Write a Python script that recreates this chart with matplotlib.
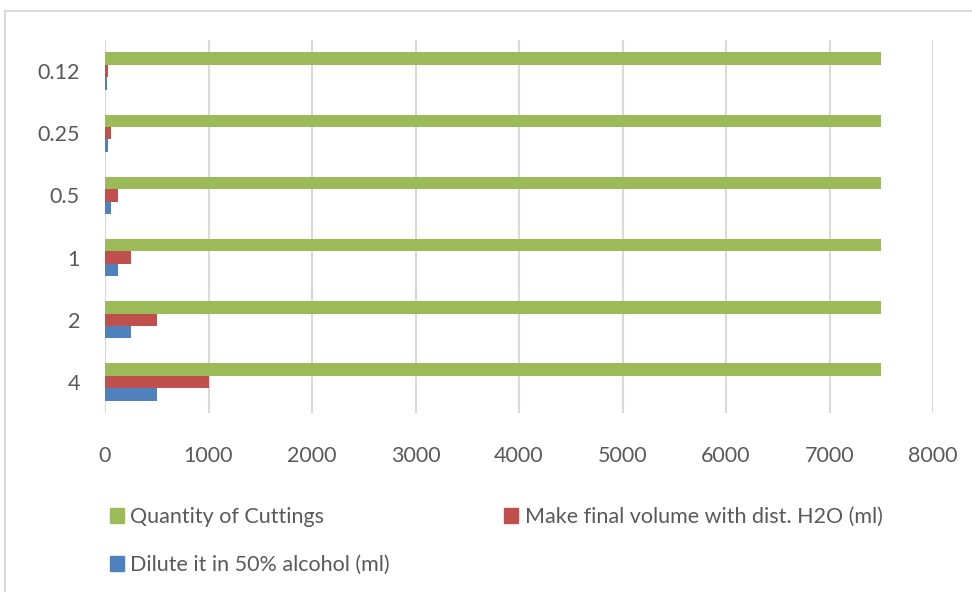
import numpy as np
import matplotlib
matplotlib.use("Agg")
from matplotlib import pyplot as plt
from matplotlib.patches import Patch, Rectangle

plt.rcParams['font.family'] = ['Lato', 'DejaVu Sans']

# data
concentrations = ["4", "2", "1", "0.5", "0.25", "0.12"]
cuttings = [7500, 7500, 7500, 7500, 7500, 7500]
final_volume = [1000, 500, 250, 125, 62.5, 31.25]
alcohol = [500, 250, 125, 62.5, 31.25, 15.625]

green = "#9BBB59"
red = "#C0504D"
blue = "#4F81BD"
text_col = "#595959"
grid_col = "#D9D9D9"
fs = 15.5

fig = plt.figure(figsize=(9.72, 5.92), dpi=100)
ax = fig.add_axes([105/972, 1 - 413/592, 828/972, 373/592])

y = np.arange(len(concentrations))
h = 0.2
ax.barh(y - h, alcohol, height=h, color=blue, label="Dilute it in 50% alcohol (ml)")
ax.barh(y, final_volume, height=h, color=red, label="Make final volume with dist. H2O (ml)")
ax.barh(y + h, cuttings, height=h, color=green, label="Quantity of Cuttings")

ax.set_xlim(0, 8000)
ax.set_ylim(-0.5, len(concentrations) - 0.5)
ax.set_xticks(range(0, 8001, 1000))
ax.set_yticks(y)
ax.set_yticklabels(concentrations)
ax.xaxis.grid(True, color=grid_col, linewidth=1.5)
ax.set_axisbelow(True)
for s in ax.spines.values():
    s.set_visible(False)
ax.tick_params(length=0, labelsize=fs, colors=text_col)
ax.tick_params(axis="x", pad=23.5)
ax.tick_params(axis="y", pad=18)

# outer frame
fig.patches.append(Rectangle((4.5/972, -0.1), 1.2, 1 - 10.5/592 + 0.1,
                             transform=fig.transFigure, fill=False,
                             edgecolor=grid_col, linewidth=1.5))

handles = [Patch(color=green, label="Quantity of Cuttings"),
           Patch(color=blue, label="Dilute it in 50% alcohol (ml)"),
           Patch(color=red, label="Make final volume with dist. H2O (ml)")]
leg = fig.legend(handles=handles, ncol=2, loc="upper left",
                 bbox_to_anchor=(110/972, 1 - 507/592), frameon=False,
                 borderpad=0, borderaxespad=0,
                 fontsize=fs, labelcolor=text_col, handlelength=0.65,
                 handleheight=0.65, handletextpad=0.3, columnspacing=5.3,
                 labelspacing=1.3)

fig.savefig("out.png", dpi=100)
